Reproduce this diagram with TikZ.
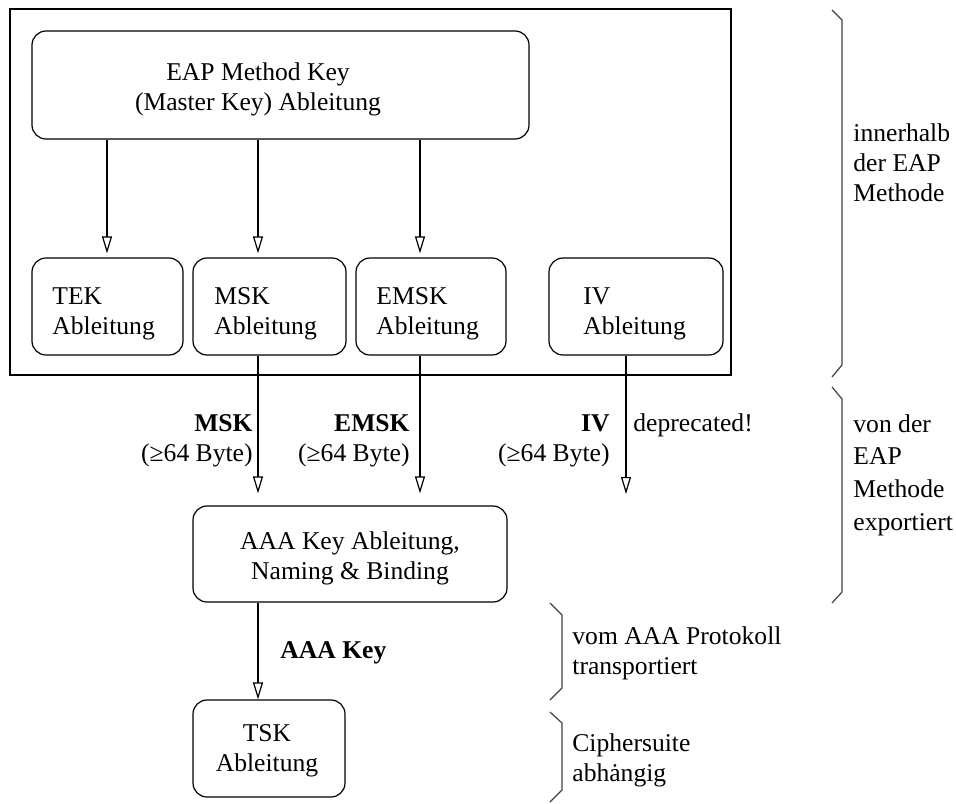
\documentclass[tikz,border=0pt]{standalone}
\usepackage{fontspec}
\setmainfont{Liberation Serif}
\usetikzlibrary{arrows.meta}
\begin{document}
\begin{tikzpicture}[x=0.5pt,y=-0.5pt,
  every node/.style={font=\fontsize{12.8}{15}\selectfont, inner sep=0pt},
  box/.style={draw, rounded corners=7pt, line width=0.6pt},
  sbox/.style={box, minimum height=48.5pt},
  ltext/.style={align=left, anchor=west},
  ctext/.style={align=center},
  arr/.style={line width=0.6pt, -{Triangle[open, length=8.5pt, width=5pt]}},
  brace/.style={line width=0.6pt, draw=black!75}]
\useasboundingbox (0,0) rectangle (956,803);

% frame around the derivations done inside the EAP method
\node[draw, line width=0.6pt, minimum width=360.5pt, minimum height=183pt] (frame) at (370.5,192) {};

% master key derivation
\node[box, minimum width=248.5pt, minimum height=54pt] (main) at (280.5,85) {};
\node[ctext] (maintext) at (258,89) {EAP Method Key\\(Master Key) Ableitung};

% derived keys
\node[sbox, minimum width=75.5pt] (tek) at (107.5,306.5) {};
\node[sbox, minimum width=76.5pt] (msk) at (269.5,306.5) {};
\node[sbox, minimum width=75pt] (emsk) at (431,306.5) {};
\node[sbox, minimum width=87pt] (iv) at (636,306.5) {};
\node[ltext] (tektext) at (52,314) {TEK\\Ableitung};
\node[ltext] (msktext) at (214,314) {MSK\\Ableitung};
\node[ltext] (emsktext) at (376,314) {EMSK\\Ableitung};
\node[ltext] (ivtext) at (583,314) {IV\\Ableitung};

\node[box, minimum width=157pt, minimum height=48pt] (aaa) at (350,554) {};
\node[ctext] (aaatext) at (350,558) {AAA Key Ableitung,\\Naming \& Binding};
\node[box, minimum width=76pt, minimum height=48.5pt] (tsk) at (269,748.5) {};
\node[ctext] (tsktext) at (267,750.5) {TSK\\Ableitung};

% connector columns
\coordinate (xtek) at (107,0);
\coordinate (xmsk) at (258,0);
\coordinate (xemsk) at (420,0);
\coordinate (xiv) at (626,0);
\coordinate (ivend) at (626,494);

\draw[arr, shorten >=2pt] (main.south -| xtek) -- (tek.north -| xtek);
\draw[arr, shorten >=2pt] (main.south -| xmsk) -- (msk.north -| xmsk);
\draw[arr, shorten >=2pt] (main.south -| xemsk) -- (emsk.north -| xemsk);

\draw[arr, shorten >=6pt] (msk.south -| xmsk) -- (aaa.north -| xmsk);
\draw[arr, shorten >=6pt] (emsk.south -| xemsk) -- (aaa.north -| xemsk);
\draw[arr] (iv.south -| xiv) -- (ivend);
\draw[arr] (aaa.south -| xmsk) -- (tsk.north -| xmsk);

% connector labels
\node[align=right, anchor=east] (lmsk) at (253,441) {\textbf{MSK}\\(≥64 Byte)};
\node[align=right, anchor=east] (lemsk) at (410,441) {\textbf{EMSK}\\(≥64 Byte)};
\node[align=right, anchor=east] (liv) at (610,441) {\textbf{IV}\\(≥64 Byte)};
\node[anchor=west] (ldep) at (633,425) {deprecated!};
\node[anchor=west] (laaa) at (280,653) {\textbf{AAA Key}};

% scope braces
\draw[brace] (832,10) -- (842,20) -- (842,365) -- (832,377);
\draw[brace] (832,387) -- (842,399) -- (842,592) -- (832,603);
\draw[brace] (550,603) -- (562,615) -- (562,688) -- (550,700);
\draw[brace] (550,712) -- (562,723) -- (562,790) -- (550,802);

\node[ltext] (b1) at (853,162.5) {innerhalb\\der EAP\\Methode};
\node[ltext, font=\fontsize{12.8}{16.3}\selectfont] (b2) at (853,475) {von der\\EAP\\Methode\\exportiert};
\node[ltext] (b3) at (572,653) {vom AAA Protokoll\\transportiert};
\node[ltext] (b4) at (572,760) {Ciphersuite\\abh\.angig};
\end{tikzpicture}
\end{document}
